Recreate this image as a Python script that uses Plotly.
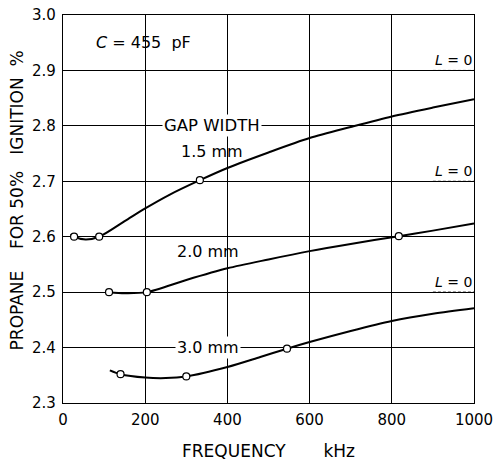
import plotly.graph_objects as go

# ---- data ----
c15_x = [18, 27, 55, 88, 150, 200, 260, 333, 400, 500, 600, 700, 800, 900, 1000]
c15_y = [2.604, 2.600, 2.595, 2.600, 2.628, 2.651, 2.676, 2.702, 2.724, 2.752, 2.778, 2.798, 2.817, 2.833, 2.848]
m15_x = [27, 88, 333]
m15_y = [2.600, 2.600, 2.702]

c20_x = [112, 150, 204, 300, 400, 500, 600, 700, 817, 900, 1000]
c20_y = [2.500, 2.498, 2.500, 2.522, 2.543, 2.559, 2.574, 2.587, 2.601, 2.611, 2.624]
m20_x = [112, 204, 817]
m20_y = [2.500, 2.500, 2.601]

c30_x = [114, 140, 200, 250, 300, 400, 480, 545, 600, 700, 800, 900, 1000]
c30_y = [2.359, 2.352, 2.346, 2.345, 2.348, 2.365, 2.383, 2.398, 2.410, 2.430, 2.448, 2.461, 2.471]
m30_x = [140, 300, 545]
m30_y = [2.352, 2.348, 2.398]

l0_levels = [2.9, 2.7, 2.5]
l0_span = [900, 1000]

x_ticks = [0, 200, 400, 600, 800, 1000]
y_ticks = [2.3, 2.4, 2.5, 2.6, 2.7, 2.8, 2.9, 3.0]

FONT = "DejaVu Sans"

fig = go.Figure()
for cx, cy in [(c15_x, c15_y), (c20_x, c20_y), (c30_x, c30_y)]:
    fig.add_trace(go.Scatter(x=cx, y=cy, mode="lines",
                             line=dict(color="black", width=2, shape="spline", smoothing=0.8),
                             hoverinfo="skip"))
for mx, my in [(m15_x, m15_y), (m20_x, m20_y), (m30_x, m30_y)]:
    fig.add_trace(go.Scatter(x=mx, y=my, mode="markers",
                             marker=dict(symbol="circle", size=7, color="white",
                                         line=dict(color="black", width=1.2))))
for lv in l0_levels:
    fig.add_trace(go.Scatter(x=l0_span, y=[lv, lv], mode="lines",
                             line=dict(color="black", width=1, dash="3px,2px")))
    fig.add_annotation(x=(l0_span[0] + l0_span[1]) / 2, y=lv, yshift=10,
                       text="<i>L</i> = 0", showarrow=False,
                       font=dict(family=FONT, size=14, color="black"))

txt = dict(family=FONT, size=16, color="black")
fig.add_annotation(x=197, y=2.950, text="<i>C</i> = 455  pF", showarrow=False, font=txt)
fig.add_annotation(x=362, y=2.80, text="GAP WIDTH", showarrow=False,
                   font=dict(family=FONT, size=16.5, color="black"),
                   bgcolor="white", borderpad=1)
fig.add_annotation(x=362, y=2.753, text="1.5 mm", showarrow=False, font=txt)
fig.add_annotation(x=353, y=2.573, text="2.0 mm", showarrow=False, font=txt)
fig.add_annotation(x=353, y=2.40, text="3.0 mm", showarrow=False, font=txt,
                   bgcolor="white", borderpad=1)

# y-axis title (placed as annotation to match off-centre position)
fig.add_annotation(xref="paper", yref="paper", x=-0.112, y=0.522,
                   xanchor="center", yanchor="middle",
                   text="PROPANE    FOR 50%   IGNITION  %", textangle=-90,
                   showarrow=False, font=dict(family=FONT, size=17, color="black"))

fig.update_layout(
    width=494, height=464,
    margin=dict(l=63, r=20, t=15, b=61, autoexpand=False),
    paper_bgcolor="white", plot_bgcolor="white",
    showlegend=False,
    font=dict(family=FONT, size=15, color="black"),
)
fig.update_xaxes(range=[0, 1000], tickvals=x_ticks, ticktext=[str(v) for v in x_ticks],
                 showgrid=True, gridcolor="black", gridwidth=0.8,
                 showline=True, linecolor="black", linewidth=1.2, mirror=True,
                 ticks="", zeroline=False, automargin=False, ticklabelstandoff=3,
                 title=dict(text="FREQUENCY       kHz", font=dict(family=FONT, size=17), standoff=17))
fig.update_yaxes(range=[2.3, 3.0], tickvals=y_ticks, ticktext=[f"{v:.1f}" for v in y_ticks],
                 showgrid=True, gridcolor="black", gridwidth=0.8,
                 showline=True, linecolor="black", linewidth=1.2, mirror=True,
                 ticks="", zeroline=False, automargin=False, ticklabelstandoff=3)

fig.write_html("out.html")
